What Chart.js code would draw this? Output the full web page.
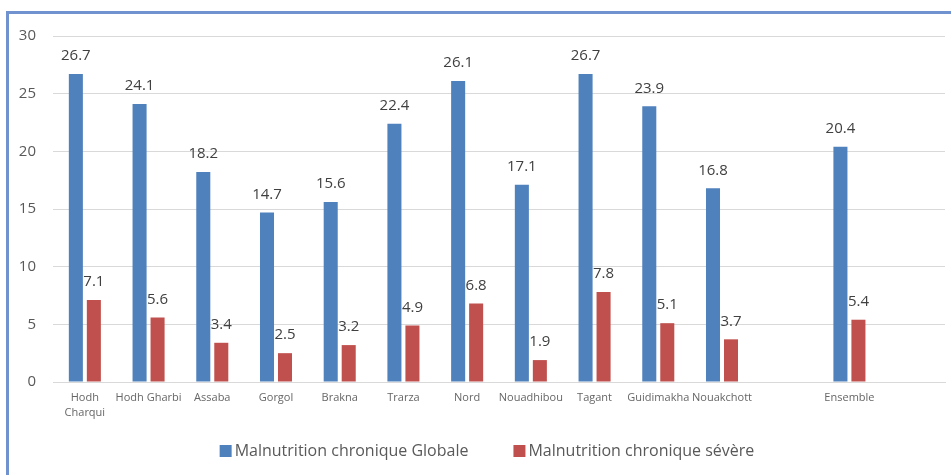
<!DOCTYPE html>
<html>
<head>
<meta charset="utf-8">
<script src="https://cdn.jsdelivr.net/npm/chart.js@4/dist/chart.umd.min.js"></script>
<style>
  html, body { margin: 0; padding: 0; background: #fff; overflow: hidden; }
  #wrap { position: relative; width: 951px; height: 475px; }
  #frame { position: absolute; left: 6px; top: 11px; width: 1000px; height: 600px;
           border: 3px solid #7092cf; box-sizing: border-box; }
  canvas { position: absolute; left: 0; top: 0; }
</style>
</head>
<body>
<div id="wrap">
  <div id="frame"></div>
  <canvas id="c" width="951" height="475"></canvas>
</div>
<script>
// Régions (une catégorie vide sépare Nouakchott de l'ensemble)
const regions = [['Hodh', 'Charqui'], 'Hodh Gharbi', 'Assaba', 'Gorgol', 'Brakna', 'Trarza',
  'Nord', 'Nouadhibou', 'Tagant', 'Guidimakha', 'Nouakchott', '', 'Ensemble', ''];
const globale = [26.7, 24.1, 18.2, 14.7, 15.6, 22.4, 26.1, 17.1, 26.7, 23.9, 16.8, null, 20.4, null];
const severe  = [7.1, 5.6, 3.4, 2.5, 3.2, 4.9, 6.8, 1.9, 7.8, 5.1, 3.7, null, 5.4, null];
const seriesNames = ['Malnutrition chronique Globale', 'Malnutrition chronique sévère'];
const yTicks = [0, 5, 10, 15, 20, 25, 30];

const FONT = "'Open Sans', 'DejaVu Sans', sans-serif";

// Valeurs affichées au-dessus de chaque barre
const valueLabels = {
  id: 'valueLabels',
  afterDatasetsDraw(chart) {
    const ctx = chart.ctx;
    ctx.save();
    ctx.font = '15px ' + FONT;
    ctx.fillStyle = '#404040';
    ctx.textAlign = 'center';
    ctx.textBaseline = 'middle';
    chart.data.datasets.forEach((ds, di) => {
      const meta = chart.getDatasetMeta(di);
      meta.data.forEach((bar, i) => {
        const v = ds.data[i];
        if (v === null || v === undefined) return;
        ctx.fillText(v.toFixed(1), bar.x, bar.y - 18);
      });
    });
    ctx.restore();
  }
};

// Légende sous le graphique
const bottomLegend = {
  id: 'bottomLegend',
  afterDraw(chart) {
    const ctx = chart.ctx;
    ctx.save();
    ctx.font = '16px ' + FONT;
    ctx.textBaseline = 'middle';
    const box = 12, gapText = 3, gapItems = 45, center = 487;
    const items = chart.data.datasets.map(ds => ({ text: ds.label, color: ds.backgroundColor }));
    const widths = items.map(it => box + gapText + ctx.measureText(it.text).width);
    const total = widths.reduce((a, b) => a + b, 0) + gapItems * (items.length - 1);
    let x = center - total / 2;
    const y = 451;
    items.forEach((it, k) => {
      ctx.fillStyle = it.color;
      ctx.fillRect(x, y - box / 2, box, box);
      ctx.fillStyle = '#595959';
      ctx.fillText(it.text, x + box + gapText, y);
      x += widths[k] + gapItems;
    });
    ctx.restore();
  }
};

new Chart(document.getElementById('c'), {
  type: 'bar',
  data: {
    labels: regions,
    datasets: [
      { label: seriesNames[0], data: globale, backgroundColor: '#4f81bd' },
      { label: seriesNames[1], data: severe, backgroundColor: '#c0504d' }
    ]
  },
  options: {
    responsive: false,
    animation: false,
    devicePixelRatio: 1,
    categoryPercentage: 0.565,
    barPercentage: 0.78,
    layout: { padding: { top: 36, right: 6, bottom: 45, left: 0 } },
    plugins: { legend: { display: false }, tooltip: { enabled: false } },
    scales: {
      x: {
        grid: { display: false, drawTicks: false },
        border: { display: true, color: '#d9d9d9', width: 1 },
        ticks: { color: '#666666', font: { family: FONT, size: 11, lineHeight: 1.36 },
                 padding: 8, maxRotation: 0, autoSkip: false },
        afterFit(scale) { scale.height = 48; }
      },
      y: {
        min: 0, max: 30,
        afterBuildTicks(scale) { scale.ticks = yTicks.map(v => ({ value: v })); },
        grid: { color: '#d9d9d9', drawTicks: false },
        border: { display: false },
        ticks: { color: '#595959', font: { family: FONT, size: 15 }, padding: 17 },
        afterFit(scale) { scale.width = 53; }
      }
    }
  },
  plugins: [valueLabels, bottomLegend]
});
</script>
</body>
</html>
